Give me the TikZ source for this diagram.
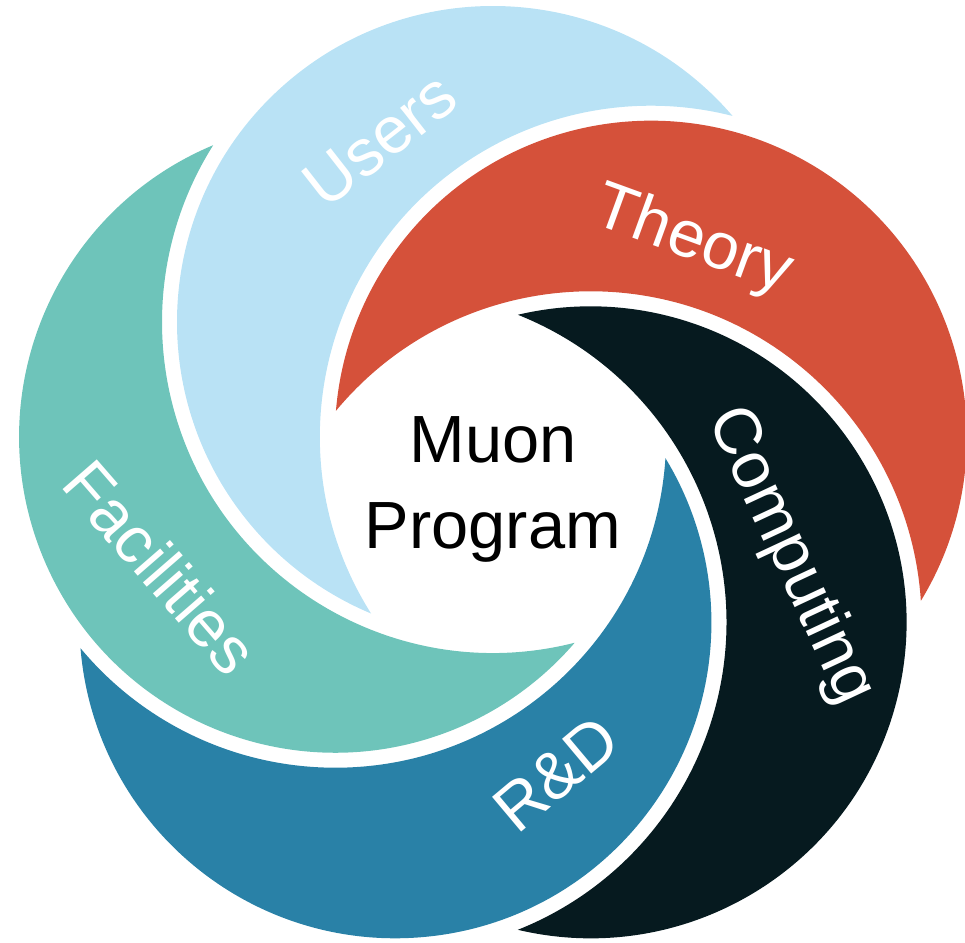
\documentclass[tikz,border=0pt]{standalone}
\usepackage{fontspec}
\setmainfont{Liberation Sans}
\usepackage{xcolor}
\usepackage{tikz}

\definecolor{usersblue}{RGB}{185,226,245}
\definecolor{theoryred}{RGB}{213,81,58}
\definecolor{computingdark}{RGB}{6,26,31}
\definecolor{rndblue}{RGB}{41,129,167}
\definecolor{facilitiesteal}{RGB}{110,196,186}

\begin{document}
\begin{tikzpicture}[x=0.02cm, y=0.02cm,
        petal/.style={fill=#1, draw=none},
        petal_label/.style={text=white, inner sep=0pt,
        font=\fontsize{37.5}{42}\selectfont},
        hub_label/.style={text=black, inner sep=0pt, anchor=base,
        font=\fontsize{38}{44}\selectfont}
    ]
    \useasboundingbox (-493,-455) rectangle (472,488);

    % Each petal: outer arc of its own ring (r=316), inner edge cut by the
    % next ring clockwise, widened by the 15 white gap (r=331)

    % Users
    \fill[petal=usersblue, shift={(90:166)}] (40.7:316)
        arc[start angle=40.7, end angle=247.3, radius=316]
        arc[start angle=212.29, end angle=75.71, radius=331] -- cycle;

    % Theory
    \fill[petal=theoryred, shift={(18:166)}] (-31.3:316)
        arc[start angle=-31.3, end angle=175.3, radius=316]
        arc[start angle=140.29, end angle=3.71, radius=331] -- cycle;

    % Computing
    \fill[petal=computingdark, shift={(-54:166)}] (-103.3:316)
        arc[start angle=-103.3, end angle=103.3, radius=316]
        arc[start angle=68.29, end angle=-68.29, radius=331] -- cycle;

    % R&D
    \fill[petal=rndblue, shift={(-126:166)}] (-175.3:316)
        arc[start angle=-175.3, end angle=31.3, radius=316]
        arc[start angle=-3.71, end angle=-140.29, radius=331] -- cycle;

    % Facilities
    \fill[petal=facilitiesteal, shift={(162:166)}] (112.7:316)
        arc[start angle=112.7, end angle=319.3, radius=316]
        arc[start angle=284.29, end angle=147.71, radius=331] -- cycle;

    % Petal labels
    \node[petal_label, rotate=38]  (users)      at (-113, 348) {Users};
    \node[petal_label, rotate=-20] (theory)     at (200, 246)  {Theory};
    \node[petal_label, rotate=-65] (computing)  at (297, -68)  {Computing};
    \node[petal_label, rotate=40]  (rnd)        at (63, -286)  {R\&D};
    \node[petal_label, rotate=-49] (facilities) at (-332, -79) {Facilities};

    % Centre
    \node[hub_label] (muon)    at (0, 25)  {Muon};
    \node[hub_label] (program) at (0, -61) {Program};

\end{tikzpicture}
\end{document}
